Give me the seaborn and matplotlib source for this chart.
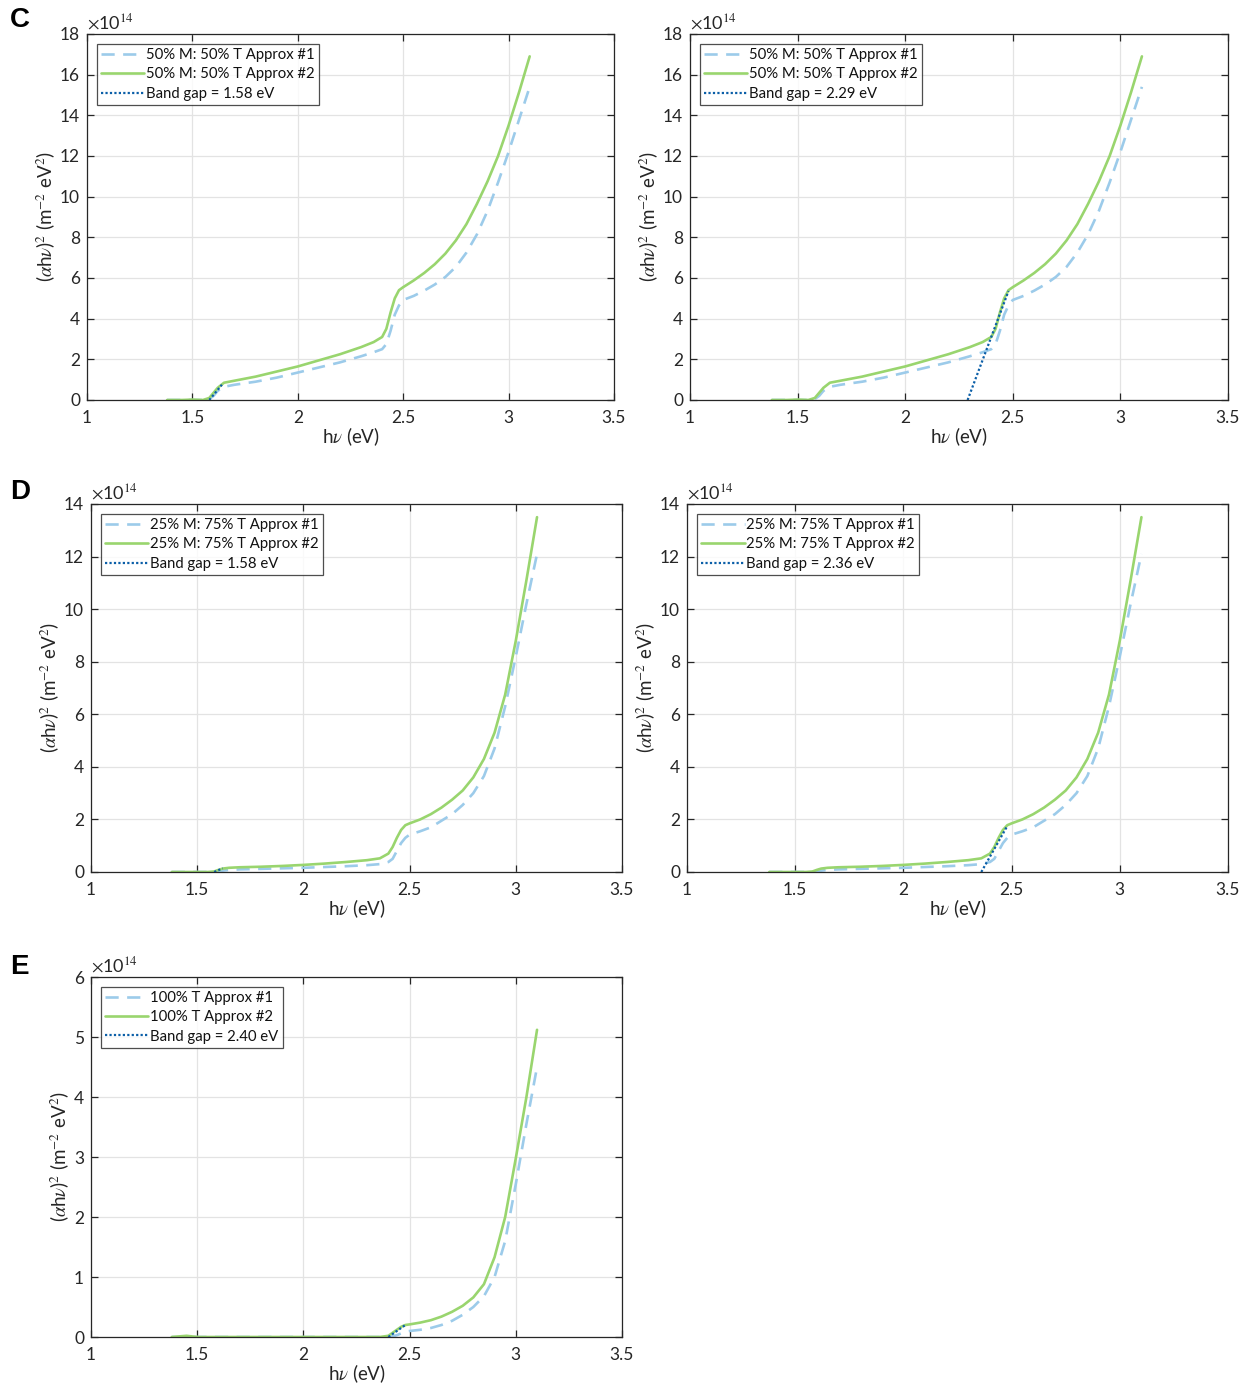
import numpy as np
import pandas as pd
import seaborn as sns
import matplotlib
matplotlib.use("Agg")
import matplotlib.pyplot as plt
from matplotlib.ticker import MultipleLocator

# ---------------- data (values in units of 1e14 m^-2 eV^2) ----------------
hv = [1.38, 1.45, 1.50, 1.55, 1.58, 1.60, 1.62, 1.65, 1.70, 1.80, 1.90, 2.00,
      2.10, 2.20, 2.30, 2.36, 2.40, 2.42, 2.44, 2.46, 2.48, 2.50, 2.55, 2.60,
      2.65, 2.70, 2.75, 2.80, 2.85, 2.90, 2.95, 3.00, 3.05, 3.10]

# 50% M : 50% T
c_approx1 = [0, 0, 0, 0, 0.05, 0.2, 0.45, 0.65, 0.75, 0.9, 1.1, 1.35,
             1.6, 1.85, 2.15, 2.35, 2.5, 2.75, 3.4, 4.2, 4.65, 4.92, 5.12, 5.38,
             5.68, 6.05, 6.55, 7.25, 8.15, 9.3, 10.7, 12.2, 13.8, 15.4]
c_approx2 = [0, 0, 0.02, 0, 0.1, 0.35, 0.6, 0.85, 0.95, 1.15, 1.4, 1.65,
             1.95, 2.25, 2.6, 2.85, 3.1, 3.5, 4.3, 5.0, 5.4, 5.55, 5.88, 6.25,
             6.68, 7.2, 7.85, 8.65, 9.65, 10.75, 12.0, 13.5, 15.15, 16.9]

# 25% M : 75% T
d_approx1 = [0, 0, 0, 0, 0.01, 0.03, 0.05, 0.08, 0.1, 0.12, 0.14, 0.16,
             0.19, 0.22, 0.26, 0.3, 0.38, 0.5, 0.8, 1.1, 1.3, 1.42, 1.55, 1.7,
             1.95, 2.2, 2.55, 3.0, 3.65, 4.7, 6.3, 8.2, 10.2, 12.1]
d_approx2 = [0, 0, 0, 0, 0.02, 0.08, 0.13, 0.16, 0.18, 0.2, 0.23, 0.27,
             0.32, 0.38, 0.45, 0.52, 0.7, 0.95, 1.3, 1.6, 1.78, 1.85, 2.0, 2.2,
             2.45, 2.75, 3.1, 3.6, 4.3, 5.3, 6.75, 8.8, 11.1, 13.5]

# 100% T
e_approx1 = [0, 0, 0, 0, 0, 0, 0, 0, 0, 0, 0, 0,
             0, 0, 0, 0, 0, 0.01, 0.03, 0.06, 0.09, 0.1, 0.12, 0.15,
             0.2, 0.27, 0.37, 0.5, 0.68, 1.0, 1.6, 2.55, 3.55, 4.5]
e_approx2 = [0, 0.02, 0, 0, 0, 0, 0, 0, 0, 0, 0, 0,
             0, 0, 0, 0, 0.02, 0.07, 0.12, 0.17, 0.2, 0.21, 0.24, 0.28,
             0.34, 0.42, 0.52, 0.66, 0.88, 1.33, 2.0, 2.98, 4.0, 5.12]

# band-gap tangent lines (x, y)
gap_c1_x, gap_c1_y = [1.58, 1.64], [0, 0.75]
gap_c2_x, gap_c2_y = [2.29, 2.48], [0, 5.36]
gap_d1_x, gap_d1_y = [1.58, 1.62], [0, 0.14]
gap_d2_x, gap_d2_y = [2.36, 2.48], [0, 1.75]
gap_e_x, gap_e_y = [2.40, 2.48], [0, 0.2]

labels_c = ["50% M: 50% T Approx #1", "50% M: 50% T Approx #2"]
labels_d = ["25% M: 75% T Approx #1", "25% M: 75% T Approx #2"]
labels_e = ["100% T Approx #1", "100% T Approx #2"]
gap_c1_lab, gap_c2_lab = "Band gap = 1.58 eV", "Band gap = 2.29 eV"
gap_d1_lab, gap_d2_lab = "Band gap = 1.58 eV", "Band gap = 2.36 eV"
gap_e_lab = "Band gap = 2.40 eV"

xticks = [1, 1.5, 2, 2.5, 3, 3.5]
xticklabels = ["1", "1.5", "2", "2.5", "3", "3.5"]

# ---------------- style ----------------
sns.set_theme(style="white")
plt.rcParams["font.family"] = ["Lato", "DejaVu Sans"]
plt.rcParams["mathtext.fontset"] = "stix"

C1 = "#9ccbea"   # light blue dashed
C2 = "#99d56e"   # light green solid
C3 = "#0b5fa8"   # dark blue dotted
AX = "#262626"

W, H = 1244, 1385
fig = plt.figure(figsize=(W / 100, H / 100), dpi=100)
fig.patch.set_facecolor("white")


def px_axes(l, r, t, b):
    return fig.add_axes([l / W, 1 - b / H, (r - l) / W, (b - t) / H])


def panel(ax, y1, y2, gx, gy, labs, glab, ymax, ystep):
    df = pd.DataFrame({"hv": hv, "a1": y1, "a2": y2})
    sns.lineplot(data=df, x="hv", y="a1", ax=ax, color=C1, linestyle=(0, (5, 3.2)),
                 linewidth=1.9, label=labs[0], estimator=None, sort=False)
    sns.lineplot(data=df, x="hv", y="a2", ax=ax, color=C2, linewidth=1.9,
                 label=labs[1], estimator=None, sort=False)
    sns.lineplot(x=gx, y=gy, ax=ax, color=C3, linestyle=(0, (1, 1)),
                 linewidth=1.6, label=glab, estimator=None, sort=False)
    ax.set_xlim(1, 3.5)
    ax.set_ylim(0, ymax)
    ax.set_xticks(xticks)
    ax.set_xticklabels(xticklabels)
    ax.yaxis.set_major_locator(MultipleLocator(ystep))
    ax.grid(True, color="#e3e3e3", linewidth=0.9)
    ax.set_axisbelow(True)
    for s in ax.spines.values():
        s.set_color(AX)
        s.set_linewidth(0.9)
    ax.tick_params(direction="in", length=5, width=0.9, top=True, right=True,
                   bottom=True, left=True, colors=AX, labelsize=12.5, pad=7)
    ax.tick_params(axis="y", pad=5)
    ax.set_xlabel(r"h$\nu$ (eV)", fontsize=13.5, color=AX, labelpad=0)
    ax.set_ylabel(r"($\alpha$h$\nu$)$^2$ (m$^{-2}$ eV$^2$)", fontsize=13.5,
                  color=AX, labelpad=2)
    ax.text(0.0, 1.005, r"$\times$10$^{14}$", transform=ax.transAxes,
            ha="left", va="bottom", fontsize=13, color=AX)
    leg = ax.legend(loc="upper left", bbox_to_anchor=(0.019, 0.973),
                    fontsize=10.7, frameon=True, fancybox=False,
                    edgecolor="#222222", handlelength=2.9, handletextpad=0.12,
                    labelspacing=0.36, borderpad=0.28, borderaxespad=0.0)
    leg.get_frame().set_linewidth(0.9)
    for t in leg.get_texts():
        t.set_color("#111111")


ax1 = px_axes(87, 614, 34, 400)
panel(ax1, c_approx1, c_approx2, gap_c1_x, gap_c1_y, labels_c, gap_c1_lab, 18, 2)
ax2 = px_axes(690, 1228, 34, 400)
panel(ax2, c_approx1, c_approx2, gap_c2_x, gap_c2_y, labels_c, gap_c2_lab, 18, 2)
ax3 = px_axes(91, 622, 504, 872)
panel(ax3, d_approx1, d_approx2, gap_d1_x, gap_d1_y, labels_d, gap_d1_lab, 14, 2)
ax4 = px_axes(687, 1228, 504, 872)
panel(ax4, d_approx1, d_approx2, gap_d2_x, gap_d2_y, labels_d, gap_d2_lab, 14, 2)
ax5 = px_axes(91, 622, 977, 1337)
panel(ax5, e_approx1, e_approx2, gap_e_x, gap_e_y, labels_e, gap_e_lab, 6, 1)

for letter, ypx in [("C", 20), ("D", 492), ("E", 967)]:
    fig.text(10 / W, 1 - ypx / H, letter, fontsize=20, fontweight="bold",
             family="Liberation Sans", ha="left", va="center", color="black")

fig.savefig("out.png", dpi=100, facecolor="white")
